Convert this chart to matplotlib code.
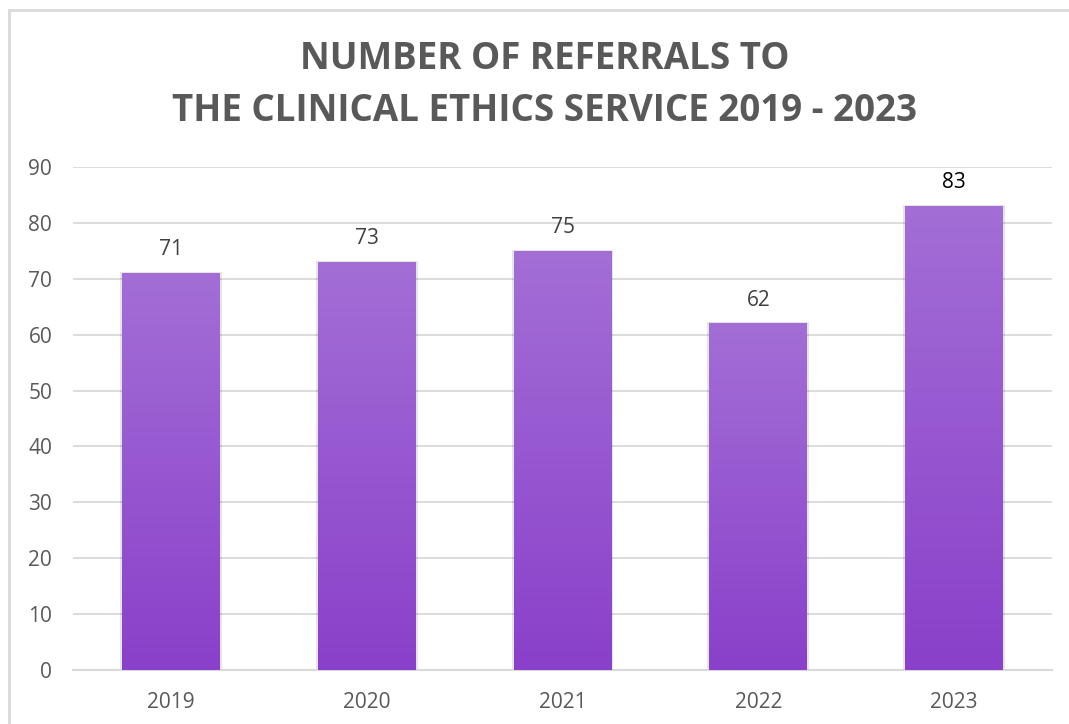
import numpy as np
import matplotlib.pyplot as plt
from matplotlib.colors import LinearSegmentedColormap
from matplotlib.patches import Rectangle

years = ['2019', '2020', '2021', '2022', '2023']
referrals = [71, 73, 75, 62, 83]
y_ticks = [0, 10, 20, 30, 40, 50, 60, 70, 80, 90]
title = 'NUMBER OF REFERRALS TO\nTHE CLINICAL ETHICS SERVICE 2019 - 2023'

plt.rcParams['font.family'] = ['Open Sans', 'DejaVu Sans']

fig = plt.figure(figsize=(10.69, 7.24), dpi=100)
# light outer chart border
fig.add_artist(Rectangle((9 / 1069, -0.01), 1.1, 1 - 10 / 724 + 0.01, transform=fig.transFigure,
                         fill=False, edgecolor='#D9D9D9', linewidth=2))

ax = fig.add_axes([73 / 1069, 54 / 724, (1052 - 73) / 1069, (670 - 167) / 724])
ax.set_ylim(0, 90)
ax.set_xlim(-0.5, len(years) - 0.5)

x = np.arange(len(years))
bars = ax.bar(x, referrals, width=0.5, color='none', zorder=3)

# vertical gradient fill in each bar
cmap = LinearSegmentedColormap.from_list('purp', ['#8A40CA', '#A36ED6'])
grad = np.linspace(0, 1, 256).reshape(-1, 1)
for b in bars:
    x0, w, h = b.get_x(), b.get_width(), b.get_height()
    # soft shadow
    ax.add_patch(Rectangle((x0 - 0.01, 0), w + 0.02, h + 0.2, color='#000000', alpha=0.1,
                           zorder=2, linewidth=0))
    im = ax.imshow(grad, extent=[x0, x0 + w, 0, h], origin='lower', cmap=cmap,
                   aspect='auto', zorder=3)
    im.set_clip_path(b)

for i, (xi, v) in enumerate(zip(x, referrals)):
    col = '#000000' if i == len(years) - 1 else '#404040'
    ax.text(xi, v + 2.3, str(v), ha='center', va='bottom', fontsize=15, color=col)

ax.set_yticks(y_ticks)
ax.set_xticks(x)
ax.set_xticklabels(years)
ax.grid(axis='y', color='#D9D9D9', linewidth=1.3, zorder=0)
ax.set_axisbelow(True)
for s in ['top', 'right', 'left']:
    ax.spines[s].set_visible(False)
ax.spines['bottom'].set_color('#D9D9D9')
ax.spines['bottom'].set_linewidth(1.5)
ax.tick_params(axis='both', length=0, labelsize=15, colors='#595959')
ax.tick_params(axis='x', pad=16)
ax.tick_params(axis='y', pad=15)

fig.text(545 / 1069, 1 - 85 / 724, title, ha='center', va='center', fontsize=26.5,
         fontweight='bold', color='#595959', linespacing=1.45)

fig.savefig('out.png', dpi=100)
